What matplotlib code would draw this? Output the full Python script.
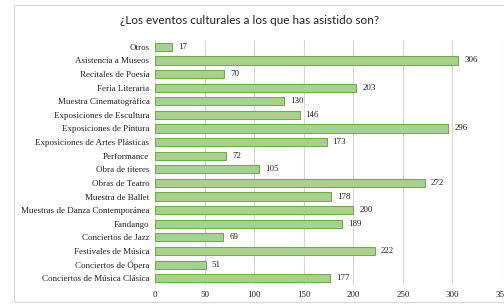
import matplotlib
matplotlib.use("Agg")
import matplotlib.pyplot as plt
from matplotlib.patches import Rectangle

categories = [
    "Otros", "Asistencia a Museos", "Recitales de Poesía", "Feria Literaria",
    "Muestra Cinematográfica", "Exposiciones de Escultura", "Exposiciones de Pintura",
    "Exposiciones de Artes Plásticas", "Performance", "Obra de títeres",
    "Obras de Teatro", "Muestra de Ballet", "Muestras de Danza Contemporánea",
    "Fandango", "Conciertos de Jazz", "Festivales de Música", "Conciertos de Ópera",
    "Conciertos de Música Clásica",
]
values = [17, 306, 70, 203, 130, 146, 296, 173, 72, 105, 272, 178, 200, 189, 69, 222, 51, 177]
xticks = [0, 50, 100, 150, 200, 250, 300, 350]

W, H = 504, 306
fig = plt.figure(figsize=(W / 100, H / 100), dpi=100)
fig.patch.set_facecolor("white")

# outer chart frame
fig.patches.append(Rectangle((14 / W, 1 - 302 / H), (W + 10) / W, 297 / H,
                             transform=fig.transFigure, fill=False,
                             edgecolor="#d9d9d9", linewidth=0.8))

ax = fig.add_axes([155 / W, 1 - 285 / H, (502 - 155) / W, (285 - 40) / H])

y = list(range(len(categories)))
ax.barh(y, values, height=0.6, color="#a9d18e", edgecolor="#70ad47", linewidth=0.8, zorder=3)
for yi, v in zip(y, values):
    ax.text(v + 6, yi, str(v), va="center", ha="left", fontsize=6.5,
            family="Liberation Serif", color="#222222")

ax.set_xlim(0, 350)
ax.set_ylim(len(categories) - 0.5, -0.5)
ax.set_xticks(xticks)
ax.set_yticks(y)
ax.set_yticklabels(categories, family="Liberation Serif", fontsize=6.5)
ax.set_xticklabels([str(t) for t in xticks], family="Liberation Serif", fontsize=6.5)
ax.tick_params(length=0, pad=4, colors="#222222")
ax.xaxis.grid(True, color="#d9d9d9", linewidth=0.8, zorder=0)
for s in ax.spines.values():
    s.set_visible(False)

fig.text(250 / W, 1 - 20 / H, "¿Los eventos culturales a los que has asistido son?",
         ha="center", va="center", fontsize=8.5, family="Lato", color="#222222")

fig.savefig("out.png", dpi=100)
